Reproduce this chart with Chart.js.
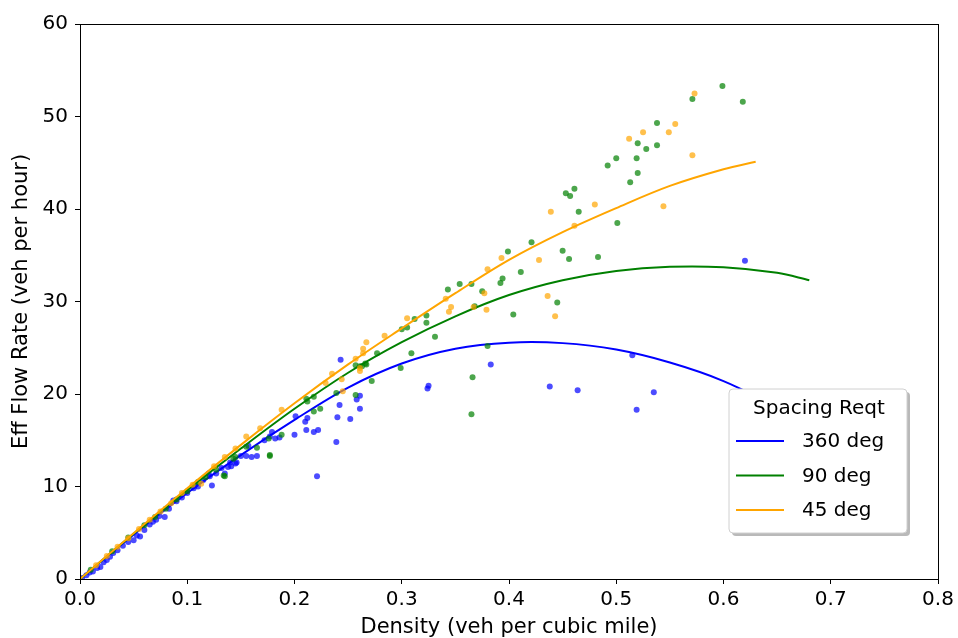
<!DOCTYPE html>
<html>
<head>
<meta charset="utf-8">
<script src="https://cdn.jsdelivr.net/npm/chart.js@4.4.1/dist/chart.umd.min.js"></script>
<style>
html,body{margin:0;padding:0;background:#fff;}
#wrap{width:958px;height:638px;position:relative;}
</style>
</head>
<body>
<div id="wrap"><canvas id="c" width="958" height="638"></canvas></div>
<script>
// ---- Data ----
const seriesNames = ["360 deg", "90 deg", "45 deg"];
const legendTitle = "Spacing Reqt";
const xTitle = "Density (veh per cubic mile)";
const yTitle = "Eff Flow Rate (veh per hour)";
const xTicks = [0, 0.1, 0.2, 0.3, 0.4, 0.5, 0.6, 0.7, 0.8];
const yTicks = [0, 10, 20, 30, 40, 50, 60];

// scatter observations
const blueX = [0.002,0.006,0.009,0.012,0.016,0.019,0.022,0.025,0.028,0.031,0.035,0.04,0.045,0.05,0.053,0.056,0.06,0.065,0.068,0.071,0.074,0.079,0.083,0.087,0.09,0.095,0.1,0.106,0.107,0.11,0.115,0.12,0.121,0.123,0.127,0.132,0.135,0.138,0.14,0.141,0.145,0.146,0.15,0.155,0.157,0.16,0.165,0.172,0.177,0.179,0.182,0.186,0.2,0.201,0.21,0.211,0.212,0.218,0.221,0.222,0.239,0.24,0.242,0.243,0.252,0.258,0.261,0.261,0.324,0.325,0.383,0.438,0.464,0.515,0.519,0.535,0.62];
const blueY = [0.1,0.4,0.7,0.8,1.2,1.3,1.8,2.05,2.4,2.8,3.1,3.6,4.0,4.2,4.7,4.6,5.3,5.9,6.2,6.4,6.8,6.7,7.6,8.5,8.4,8.8,9.3,9.8,10.1,10.0,10.7,11.4,11.1,10.1,11.4,12.0,11.4,12.1,12.6,12.2,12.5,12.6,13.3,13.3,14.4,13.2,13.3,15.0,15.4,15.9,15.2,15.3,15.6,17.6,17.0,16.1,17.4,15.9,11.1,16.1,14.8,17.5,18.8,23.7,17.3,19.4,19.8,18.4,20.6,20.9,23.2,20.8,20.4,24.2,18.3,20.2,34.4];

const greenX = [0.01,0.03,0.045,0.06,0.07,0.08,0.09,0.1,0.11,0.117,0.127,0.134,0.135,0.143,0.145,0.155,0.165,0.176,0.177,0.177,0.188,0.211,0.212,0.218,0.218,0.224,0.239,0.257,0.257,0.261,0.263,0.266,0.267,0.272,0.277,0.299,0.3,0.305,0.309,0.312,0.323,0.323,0.331,0.343,0.354,0.365,0.365,0.366,0.368,0.375,0.38,0.392,0.394,0.399,0.404,0.411,0.421,0.445,0.45,0.453,0.456,0.457,0.461,0.465,0.483,0.492,0.5,0.501,0.513,0.519,0.52,0.52,0.528,0.538,0.538,0.571,0.599,0.618];
const greenY = [1.0,3.0,4.5,5.8,6.7,7.6,8.6,9.5,10.5,11.0,11.8,11.2,11.1,13.0,13.2,14.3,14.2,15.2,13.4,13.3,15.6,19.5,19.2,19.7,18.1,18.4,20.1,19.9,23.1,23.0,23.0,23.3,23.2,21.4,24.4,22.8,27.0,27.2,24.4,28.1,28.5,27.7,26.2,31.3,31.9,31.9,17.8,21.8,29.5,31.1,25.2,32.0,32.5,35.4,28.6,33.2,36.4,29.9,35.5,41.7,34.6,41.4,42.2,39.7,34.8,44.7,45.5,38.5,42.9,45.5,47.1,43.9,46.5,46.9,49.3,51.9,53.3,51.6];

const orangeX = [0.015,0.025,0.035,0.045,0.055,0.065,0.075,0.085,0.095,0.105,0.113,0.125,0.135,0.145,0.155,0.168,0.188,0.229,0.235,0.244,0.245,0.257,0.261,0.261,0.264,0.264,0.267,0.284,0.305,0.341,0.344,0.346,0.367,0.377,0.379,0.38,0.393,0.428,0.436,0.439,0.443,0.461,0.48,0.512,0.525,0.544,0.549,0.555,0.571,0.573];
const orangeY = [1.5,2.5,3.5,4.4,5.4,6.4,7.3,8.2,9.3,10.2,10.3,12.2,13.2,14.1,15.4,16.3,18.3,21.2,22.2,21.6,20.3,23.8,22.5,22.8,24.9,24.4,25.6,26.3,28.2,30.3,28.9,29.4,29.4,30.9,29.1,33.5,34.7,34.5,30.6,39.7,28.4,38.2,40.5,47.6,48.3,40.3,48.3,49.2,45.8,52.5];

// fitted curves
const blueFitX = [0,0.05,0.1,0.15,0.2,0.25,0.3,0.35,0.4,0.45,0.5,0.55,0.6,0.65];
const blueFitY = [0,4.8,9.3,13.4,17.2,20.7,23.3,24.9,25.55,25.5,24.8,23.4,21.4,18.6];
const greenFitX = [0,0.05,0.1,0.15,0.2,0.25,0.3,0.35,0.4,0.45,0.5,0.55,0.6,0.65,0.68];
const greenFitY = [0,4.9,9.6,14.1,18.4,22.3,25.6,28.4,30.7,32.3,33.3,33.75,33.7,33.1,32.3];
const orangeFitX = [0,0.05,0.1,0.15,0.2,0.25,0.3,0.35,0.4,0.45,0.5,0.55,0.6,0.63];
const orangeFitY = [0,4.95,9.8,14.5,19.0,23.2,27.1,30.9,34.5,37.5,40.1,42.5,44.3,45.1];

const colors = ["#0000ff", "#008000", "#ffa500"];
const dotColors = ["rgba(0,0,255,0.7)", "rgba(0,128,0,0.7)", "rgba(255,165,0,0.7)"];

function zip(xs, ys){ return xs.map((x,i)=>({x:x, y:ys[i]})); }

const FONT = "'DejaVu Sans', sans-serif";

const scatterSets = [[blueX,blueY],[greenX,greenY],[orangeX,orangeY]];
const fitSets = [[blueFitX,blueFitY],[greenFitX,greenFitY],[orangeFitX,orangeFitY]];

const datasets = [];
for (let i=0;i<3;i++){
  datasets.push({
    label: seriesNames[i] + " data",
    data: zip(scatterSets[i][0], scatterSets[i][1]),
    showLine: false,
    pointRadius: 3,
    pointBorderWidth: 0,
    pointBackgroundColor: dotColors[i],
    pointBorderColor: dotColors[i],
    order: 10 - i*2
  });
  datasets.push({
    label: seriesNames[i],
    data: zip(fitSets[i][0], fitSets[i][1]),
    showLine: true,
    pointRadius: 0,
    borderColor: colors[i],
    borderWidth: 2,
    tension: 0.35,
    fill: false,
    order: 9 - i*2
  });
}

const framePlugin = {
  id: 'frame',
  afterDatasetsDraw(chart){
    const {ctx, chartArea:a} = chart;
    ctx.save();
    ctx.strokeStyle = '#000';
    ctx.lineWidth = 1;
    ctx.strokeRect(Math.round(a.left)+0.5, Math.round(a.top)+0.5, Math.round(a.right-a.left), Math.round(a.bottom-a.top));
    ctx.restore();
  },
  afterDraw(chart){
    const {ctx, chartArea:a} = chart;
    // legend box, bottom right inside the plot
    const w = 178, h = 144;
    const x = a.right - 31 - w, y = a.bottom - 46 - h;
    ctx.save();
    function rr(px,py,pw,ph,r){
      ctx.beginPath();
      ctx.moveTo(px+r,py);
      ctx.lineTo(px+pw-r,py); ctx.quadraticCurveTo(px+pw,py,px+pw,py+r);
      ctx.lineTo(px+pw,py+ph-r); ctx.quadraticCurveTo(px+pw,py+ph,px+pw-r,py+ph);
      ctx.lineTo(px+r,py+ph); ctx.quadraticCurveTo(px,py+ph,px,py+ph-r);
      ctx.lineTo(px,py+r); ctx.quadraticCurveTo(px,py,px+r,py);
      ctx.closePath();
    }
    // shadow
    rr(x+3, y+3, w, h, 4);
    ctx.fillStyle = 'rgba(128,128,128,0.55)';
    ctx.fill();
    rr(x, y, w, h, 4);
    ctx.fillStyle = '#fff';
    ctx.fill();
    ctx.strokeStyle = '#d0d0d0';
    ctx.lineWidth = 1;
    ctx.stroke();
    ctx.fillStyle = '#000';
    ctx.font = "20px " + FONT;
    ctx.textAlign = 'center';
    ctx.textBaseline = 'middle';
    ctx.fillText(legendTitle, x + w/2 + 1, y + 20);
    ctx.textAlign = 'left';
    for (let i=0;i<3;i++){
      const ly = y + 52 + i*34.5;
      ctx.strokeStyle = colors[i];
      ctx.lineWidth = 2;
      ctx.beginPath();
      ctx.moveTo(x+7, ly); ctx.lineTo(x+55, ly);
      ctx.stroke();
      ctx.fillStyle = '#000';
      ctx.fillText(seriesNames[i], x + 73, ly + 1);
    }
    ctx.restore();
  }
};

new Chart(document.getElementById('c'), {
  type: 'scatter',
  data: { datasets },
  plugins: [framePlugin],
  options: {
    responsive: false,
    animation: false,
    devicePixelRatio: 1,
    layout: { padding: { top: 24, right: 20, left: 0, bottom: 0 } },
    plugins: { legend: { display: false }, tooltip: { enabled: false } },
    scales: {
      x: {
        type: 'linear', min: 0, max: 0.8,
        afterBuildTicks(s){ s.ticks = xTicks.map(v=>({value:v})); },
        afterFit(s){ s.height = 59; },
        ticks: { color: '#000', font: { family: FONT, size: 20 }, padding: 4, maxRotation: 0,
          callback: v => (v === 0 ? '0.0' : String(Number(v.toFixed(1)))) },
        grid: { drawOnChartArea: false, drawTicks: true, tickLength: 5, color: '#000' },
        border: { display: true, color: '#000' },
        title: { display: true, text: xTitle, color: '#000', font: { family: FONT, size: 21, lineHeight: 1 }, padding: { top: 0, bottom: 0 } }
      },
      y: {
        type: 'linear', min: 0, max: 60,
        afterBuildTicks(s){ s.ticks = yTicks.map(v=>({value:v})); },
        afterFit(s){ s.width = 80; },
        ticks: { color: '#000', font: { family: FONT, size: 20 }, padding: 7 },
        grid: { drawOnChartArea: false, drawTicks: true, tickLength: 5, color: '#000' },
        border: { display: true, color: '#000' },
        title: { display: true, text: yTitle, color: '#000', font: { family: FONT, size: 21, lineHeight: 1 }, padding: { top: 11, bottom: 0 } }
      }
    }
  }
});
</script>
</body>
</html>
